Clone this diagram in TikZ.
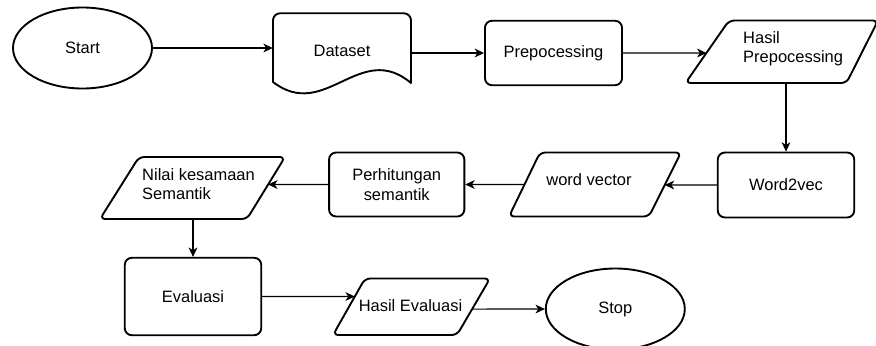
\documentclass[tikz,border=0pt]{standalone}
\usepackage{fontspec}
\setmainfont{Liberation Sans}
\usetikzlibrary{shapes.geometric,arrows.meta,calc}
\begin{document}
\begin{tikzpicture}[x=0.85pt,y=-0.85pt,
  every node/.style={font=\fontsize{14pt}{16.5pt}\selectfont, text=black},
  boxline/.style={draw=black, line width=1.6pt, line join=round},
  procbox/.style={boxline, rectangle, rounded corners=6pt, inner sep=0pt},
  termbox/.style={boxline, ellipse, inner sep=0pt, minimum width=118.15pt, minimum height=68.85pt},
  ghost/.style={rectangle, inner sep=0pt},
  para/.style={boxline, rounded corners=4.5pt},
  txt/.style={inner sep=0pt},
  ar/.style={draw=black, line width=0.9pt, -{Stealth[length=8pt,width=7.5pt,inset=2.4pt]}}
]
\useasboundingbox (0,0) rectangle (876,345);

% ---- terminals and processes
\node[termbox] (start) at (82.5,48) {Start};
\node[termbox] (stop) at (615.3,309) {Stop};
\node[procbox, minimum width=116.5pt, minimum height=54.8pt] (pre) at (553.5,53) {Prepocessing};
\node[procbox, minimum width=116.0pt, minimum height=55.2pt] (w2v) at (786,185) {Word2vec};
\node[procbox, minimum width=115.0pt, minimum height=54.4pt, align=center] (per) at (396.7,184.5) {Perhitungan\\semantik};
\node[procbox, minimum width=116.0pt, minimum height=65.8pt] (eval) at (193,296.5) {Evaluasi};

% ---- document shape (Dataset)
\node[ghost, minimum width=117.3pt, minimum height=64.6pt] (ds) at (342,51) {Dataset};
\draw[boxline] (273,82) -- (273,40) [rounded corners=6pt] -- (273,13.3) -- (411,13.3) -- (411,40)
  [sharp corners] -- (411,83) .. controls (360,40) and (325,122) .. (273,82) -- cycle;

% ---- parallelograms (data)
\coordinate (hp-tl) at (729,20.5);  \coordinate (hp-tr) at (878,20.5);
\coordinate (hp-br) at (846.5,83);  \coordinate (hp-bl) at (685.5,83);
\draw[para] (hp-tl) -- (hp-tr) -- (hp-br) -- (hp-bl) -- cycle;
\node[txt, anchor=west, align=left] (hpt) at (743,48.6) {Hasil\\Prepocessing};

\coordinate (wv-tl) at (540,152.5); \coordinate (wv-tr) at (681,152.5);
\coordinate (wv-br) at (649,216.5); \coordinate (wv-bl) at (509,216.5);
\draw[para] (wv-tl) -- (wv-tr) -- (wv-br) -- (wv-bl) -- cycle;
\node[txt, anchor=base] (wvt) at (589,185.5) {word vector};

\coordinate (ni-tl) at (139,157); \coordinate (ni-tr) at (285,157);
\coordinate (ni-br) at (247,219); \coordinate (ni-bl) at (100,219);
\draw[para] (ni-tl) -- (ni-tr) -- (ni-br) -- (ni-bl) -- cycle;
\node[txt, anchor=west, align=left] (nit) at (142,184) {Nilai kesamaan\\Semantik};

\coordinate (he-tl) at (365,278.5); \coordinate (he-tr) at (490,278.5);
\coordinate (he-br) at (457,335);   \coordinate (he-bl) at (333,335);
\draw[para] (he-tl) -- (he-tr) -- (he-br) -- (he-bl) -- cycle;
\node[txt, anchor=base] (het) at (410.5,311) {Hasil Evaluasi};

% ---- connectors
\draw[ar] (start.east) -- (start.east -| ds.west);
\draw[ar] (ds.east |- pre.west) -- (pre.west);
\draw[ar] (pre.east) -- (intersection of pre.east--pre.west and hp-tl--hp-bl);
\draw[ar] (w2v.north |- hp-bl) -- (w2v.north);
\draw[ar] (w2v.west) -- (intersection of w2v.west--w2v.east and wv-tr--wv-br);
\draw[ar] (intersection of per.east--per.west and wv-tl--wv-bl) -- (per.east);
\draw[ar] (per.west) -- (intersection of per.west--per.east and ni-tr--ni-br);
\draw[ar] (eval.north |- ni-bl) -- (eval.north);
\draw[ar] (eval.east) -- (intersection of eval.east--eval.west and he-tl--he-bl);
\draw[ar] (intersection of stop.west--stop.east and he-tr--he-br) -- (stop.west);
\end{tikzpicture}
\end{document}
